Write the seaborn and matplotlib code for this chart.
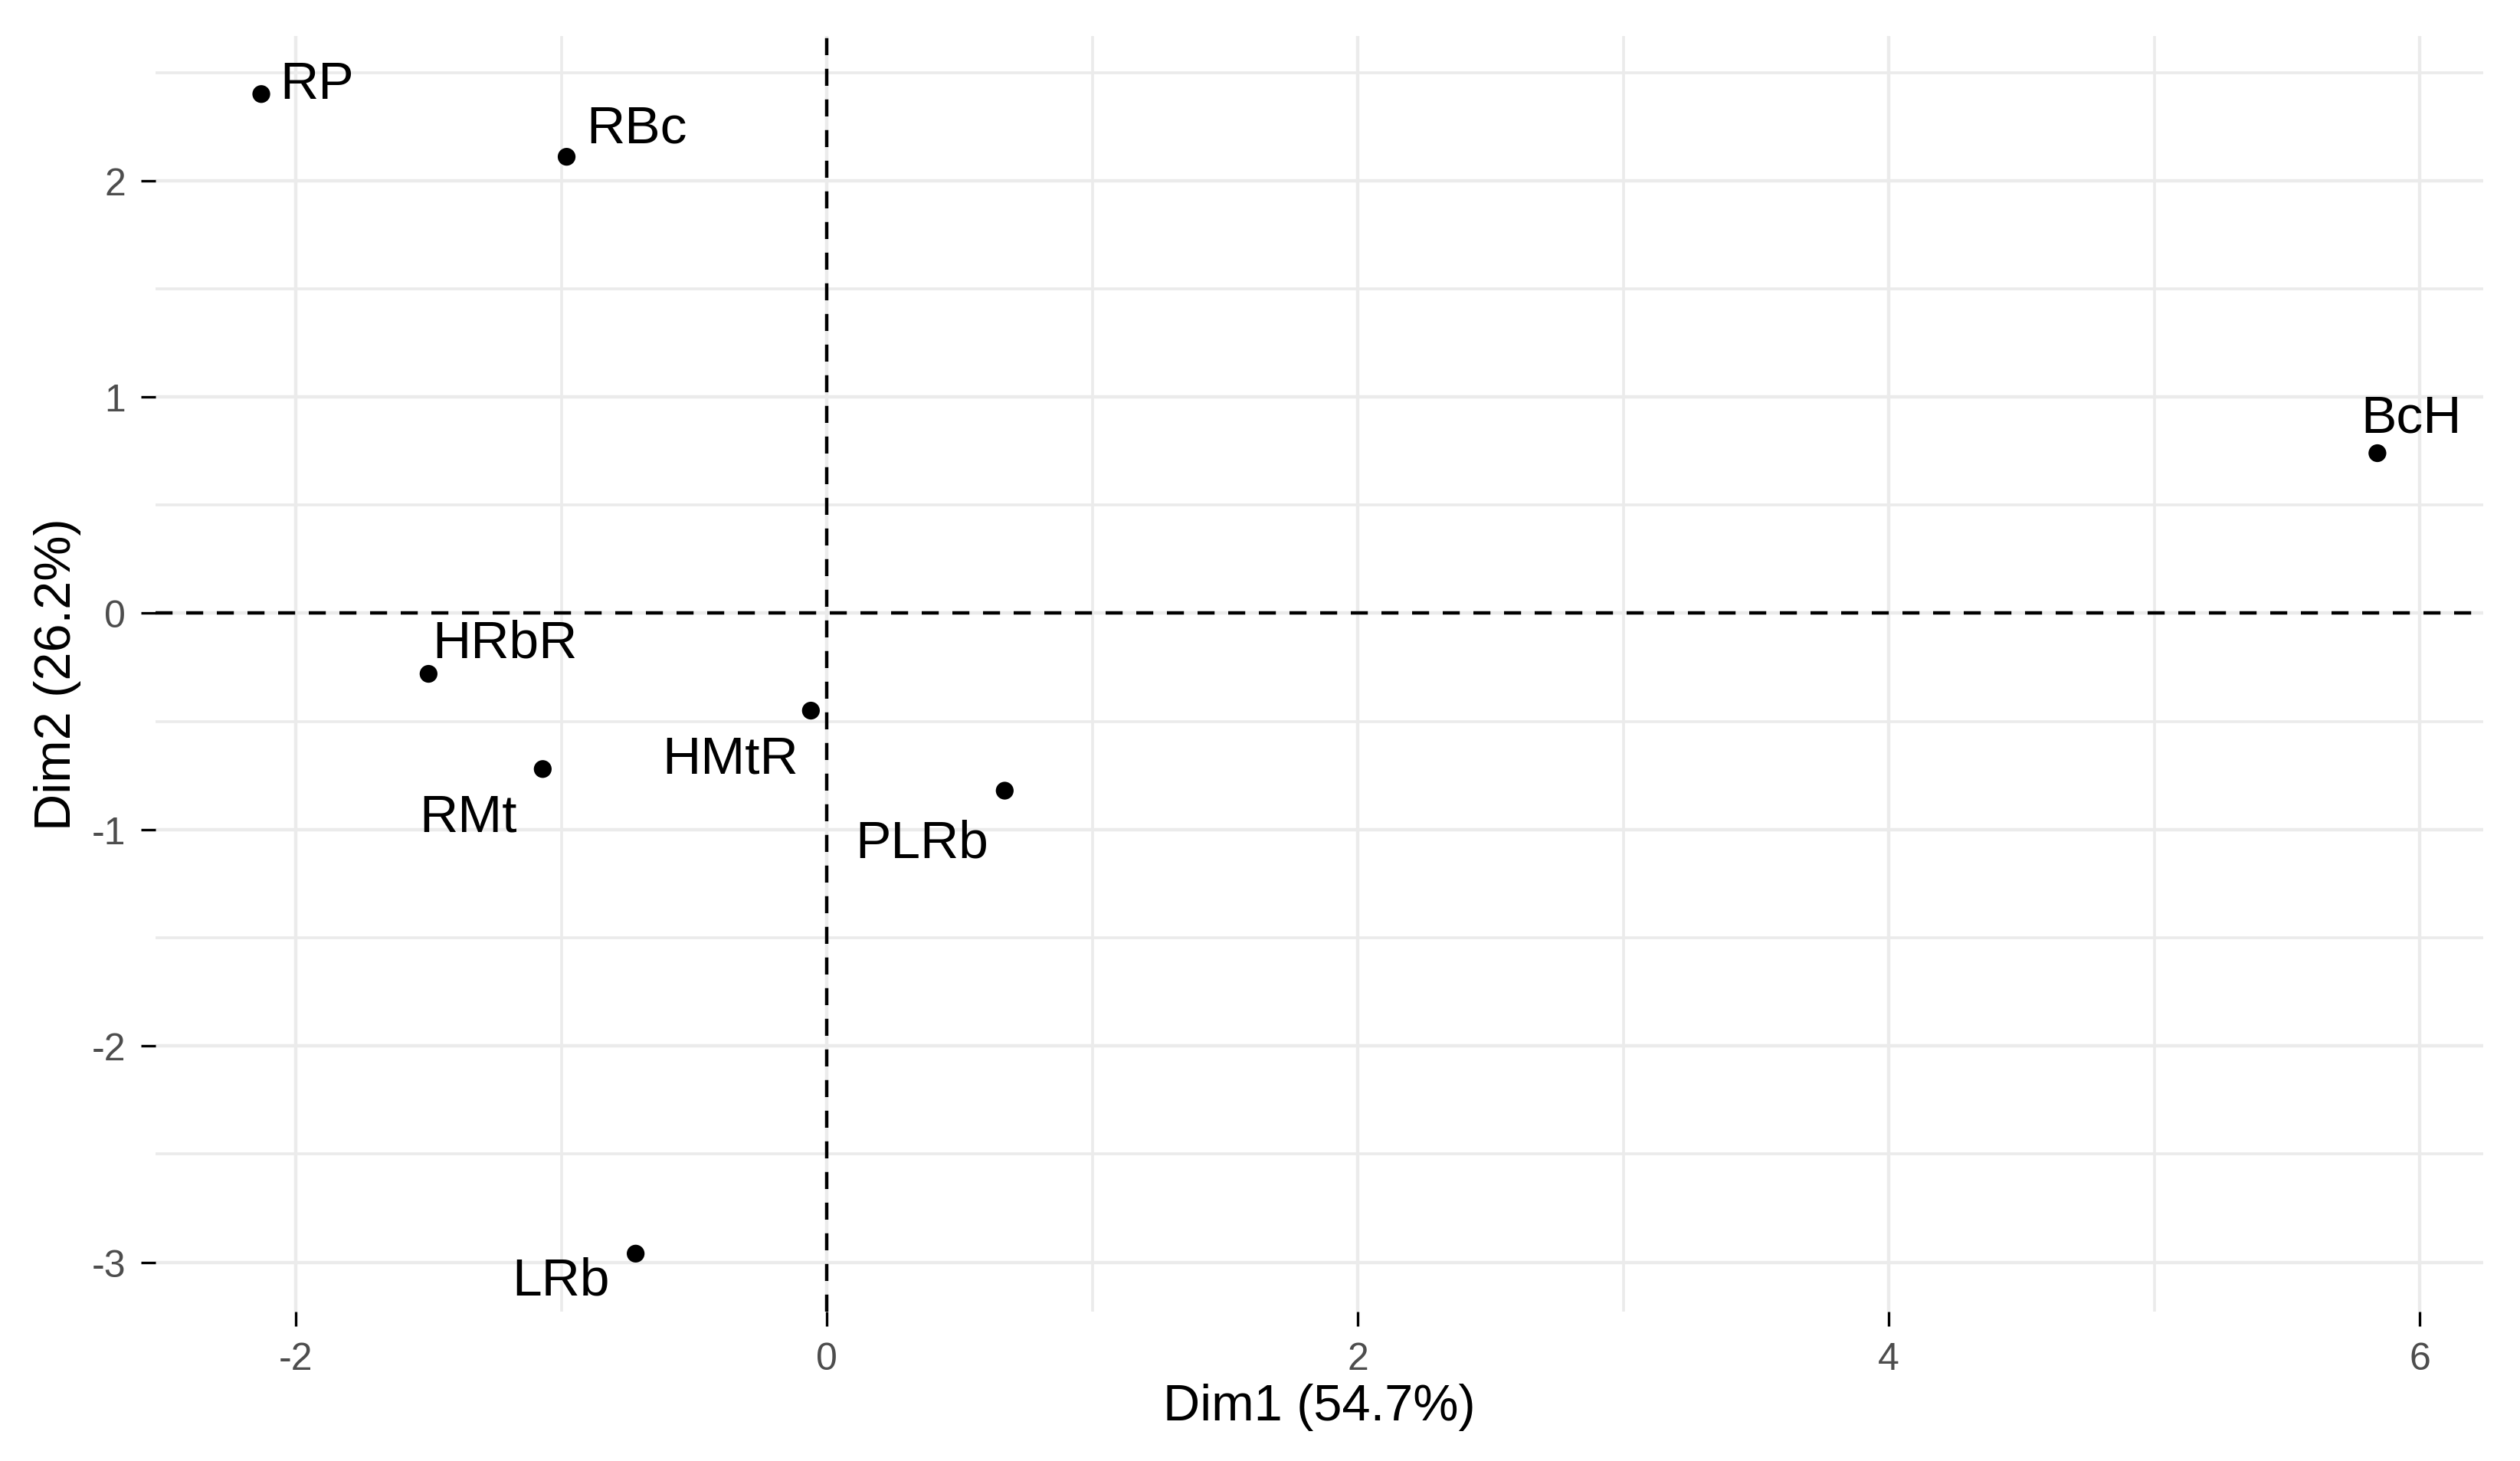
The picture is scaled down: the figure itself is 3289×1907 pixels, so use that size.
import matplotlib
matplotlib.use("Agg")
import matplotlib.pyplot as plt
import seaborn as sns
import pandas as pd
import numpy as np
from matplotlib.ticker import MultipleLocator

# ---- data ----
labels = ["RP", "RBc", "BcH", "HRbR", "HMtR", "RMt", "PLRb", "LRb"]
dim1 = [-2.13, -0.98, 5.84, -1.50, -0.06, -1.07, 0.67, -0.72]
dim2 = [2.40, 2.11, 0.74, -0.28, -0.45, -0.72, -0.82, -2.96]
xlabel = "Dim1 (54.7%)"
ylabel = "Dim2 (26.2%)"
xticks = [-2, 0, 2, 4, 6]
yticks = [-3, -2, -1, 0, 1, 2]

# label offsets in points (style, like ggrepel placement)
label_dx = [26, 33, 16, 36, -38, -35, -39, -35]
label_dy = [4.5, 13.5, 16.5, 14.5, -22.5, -22.5, -24.5, -12.5]

df = pd.DataFrame({"Dim1": dim1, "Dim2": dim2, "name": labels})

sns.set_theme(style="white")
plt.rcParams['font.family'] = ['Liberation Sans', 'DejaVu Sans']
plt.rcParams['axes.unicode_minus'] = False

fig = plt.figure(figsize=(16.445, 9.54), dpi=200)
ax = fig.add_axes([0.0617, 0.1022, 0.9854 - 0.0617, 0.9748 - 0.1022])

sns.scatterplot(data=df, x="Dim1", y="Dim2", ax=ax, color="black", s=70,
                edgecolor="none", zorder=4)

ax.axhline(0, color="black", linestyle=(0, (5, 4)), linewidth=1.6, zorder=3)
ax.axvline(0, color="black", linestyle=(0, (5, 4)), linewidth=1.6, zorder=3)

for xv, yv, t, dx, dy in zip(df.Dim1, df.Dim2, df.name, label_dx, label_dy):
    ax.annotate(t, (xv, yv), xytext=(dx, dy), textcoords="offset points",
                ha="center", va="center", fontsize=25, color="black", zorder=5)

# ggplot-like 5% expansion
xr = max(dim1) - min(dim1)
yr = max(dim2) - min(dim2)
ax.set_xlim(min(dim1) - 0.05 * xr, max(dim1) + 0.05 * xr)
ax.set_ylim(min(dim2) - 0.05 * yr, max(dim2) + 0.05 * yr)

ax.set_xticks(xticks)
ax.set_yticks(yticks)
ax.xaxis.set_minor_locator(MultipleLocator(1))
ax.yaxis.set_minor_locator(MultipleLocator(0.5))
ax.grid(True, which="major", color="#EBEBEB", linewidth=1.6, zorder=0)
ax.grid(True, which="minor", color="#EBEBEB", linewidth=1.3, zorder=0)
ax.set_axisbelow(True)
for sp in ax.spines.values():
    sp.set_visible(False)

ax.tick_params(axis="both", which="major", length=7, width=1.2, color="black",
               labelsize=18, labelcolor="#4D4D4D", pad=7, bottom=True, left=True)
ax.tick_params(axis="both", which="minor", length=0)

ax.set_xlabel(xlabel, fontsize=24, color="black", labelpad=3)
ax.set_ylabel(ylabel, fontsize=24, color="black", labelpad=5)

fig.savefig("out.png", dpi=200, facecolor="white")
